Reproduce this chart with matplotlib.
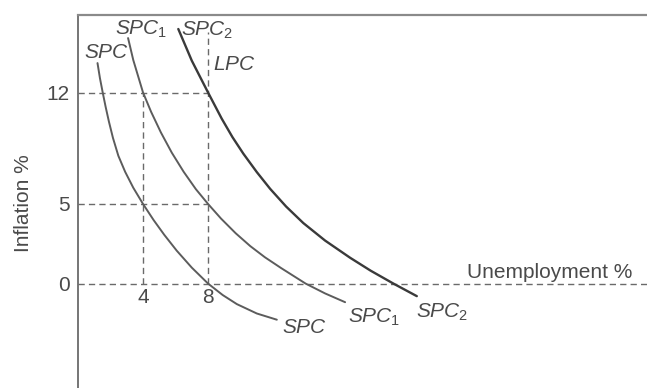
import matplotlib.pyplot as plt

plt.rcParams['font.family'] = ['Liberation Sans', 'DejaVu Sans']
plt.rcParams['mathtext.fontset'] = 'custom'
plt.rcParams['mathtext.it'] = 'Liberation Sans:italic'
plt.rcParams['mathtext.rm'] = 'Liberation Sans'

# curves (unemployment %, inflation %)
spc_x = [1.2, 1.35, 1.52, 1.7, 1.9, 2.15, 2.48, 2.9, 3.4, 4.0, 4.65, 5.3, 6.07,
         7.0, 8.0, 8.9, 9.77, 11.0, 12.23]
spc_y = [13.85, 12.9, 12.0, 11.1, 10.18, 9.15, 8.03, 7.02, 6.02, 5.0, 3.99, 3.07, 2.07,
         1.0, 0.0, -0.72, -1.29, -1.88, -2.27]

spc1_x = [3.08, 3.4, 4.0, 4.5, 5.1, 5.77, 6.5, 7.25, 8.0, 8.8, 9.7, 10.6, 11.5,
          12.5, 14.0, 15.2, 16.43]
spc1_y = [15.42, 14.04, 12.0, 10.78, 9.49, 8.22, 7.02, 5.93, 5.0, 4.08, 3.16, 2.35, 1.65,
          0.97, 0.0, -0.62, -1.17]

spc2_x = [6.17, 7.0, 8.0, 8.84, 9.5, 10.17, 11.0, 11.82, 12.8, 13.86, 15.2, 16.74,
          18.0, 19.4, 20.84]
spc2_y = [15.99, 14.0, 12.0, 10.36, 9.2, 8.16, 7.0, 5.95, 4.84, 3.8, 2.7, 1.62,
          0.81, 0.0, -0.79]

lpc_x = 8
lpc_top = 15.8
inflation_ticks = [0, 5, 12]
unemployment_marks = [4, 8]

text_col = '#4a4a4a'
fs = 15

fig = plt.figure(figsize=(6.47, 3.88), dpi=100)
ax = fig.add_axes([78 / 647, 0, 1 - 78 / 647, 1 - 15 / 388])
ax.set_xlim(0, 35)
ax.set_ylim(-6.56, 16.87)

dash = dict(color='#6a6a6a', lw=1.0, dashes=(4.5, 3))
# guide lines
ax.plot([0, 35], [0, 0], **dash)
ax.plot([0, lpc_x], [12, 12], **dash)
ax.plot([0, lpc_x], [5, 5], **dash)
ax.plot([4, 4], [0, 12], **dash)
ax.plot([lpc_x, lpc_x], [0, lpc_top], **dash)

curve = dict(solid_capstyle='round', solid_joinstyle='round')
ax.plot(spc_x, spc_y, color='#5c5c5c', lw=1.4, **curve)
ax.plot(spc1_x, spc1_y, color='#5c5c5c', lw=1.4, **curve)
ax.plot(spc2_x, spc2_y, color='#3a3a3a', lw=1.7, **curve)

for s in ['right', 'bottom']:
    ax.spines[s].set_visible(False)
ax.spines['left'].set_color('#6a6a6a')
ax.spines['left'].set_linewidth(1.3)
ax.spines['top'].set_color('#8a8a8a')
ax.spines['top'].set_linewidth(1.6)

ax.set_xticks([])
ax.set_yticks(inflation_ticks)
ax.set_yticklabels([str(v) for v in inflation_ticks])
ax.tick_params(axis='y', length=0, pad=6, labelsize=fs, labelcolor=text_col)

for u in unemployment_marks:
    ax.annotate(str(u), xy=(u, 0), xytext=(0, -14), textcoords='offset pixels',
                ha='center', va='center', fontsize=fs, color=text_col)


def label(txt, x, y, dx, dy):
    ax.annotate(txt, xy=(x, y), xytext=(dx, dy), textcoords='offset pixels',
                ha='left', va='baseline', fontsize=fs, color=text_col)


label(r'$SPC$', spc_x[0], spc_y[0], -14, 5)
label(r'$SPC_1$', spc1_x[0], spc1_y[0], -13, 3)
label(r'$SPC_2$', spc2_x[0], spc2_y[0], 3, -7)
label(r'$LPC$', lpc_x, lpc_top, 5, -38)
label(r'$SPC$', spc_x[-1], spc_y[-1], 5, -13)
label(r'$SPC_1$', spc1_x[-1], spc1_y[-1], 3, -21)
label(r'$SPC_2$', spc2_x[-1], spc2_y[-1], -1, -22)

ax.annotate('Unemployment %', xy=(1, 0), xycoords=('axes fraction', 'data'),
            xytext=(-15, 6), textcoords='offset pixels', ha='right', va='baseline',
            fontsize=fs, color=text_col)
fig.text(24 / 647, 1 - 203 / 388, 'Inflation %', rotation=90, ha='center', va='center',
         fontsize=fs, color=text_col)

fig.savefig('out.png', dpi=100)
